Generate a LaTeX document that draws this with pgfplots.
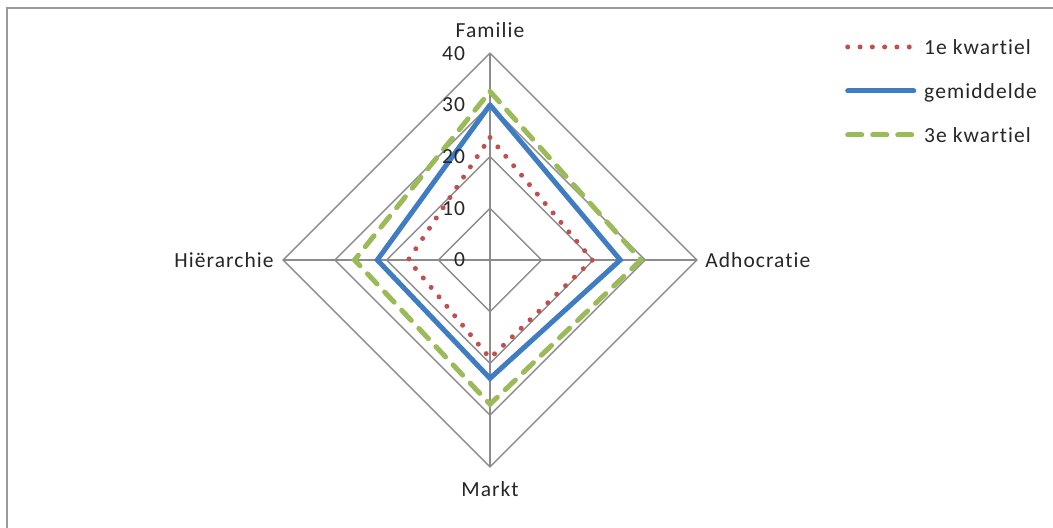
\documentclass[border=0pt]{standalone}
\usepackage{fontspec}
\setmainfont{Carlito}[LetterSpace=5, Ligatures={NoCommon}]
\usepackage{pgfplots}
\pgfplotsset{compat=1.18}
\usepgfplotslibrary{polar}
\definecolor{qred}{HTML}{C0504D}
\definecolor{qblue}{HTML}{3F7CC2}
\definecolor{qgreen}{HTML}{9BBB59}
\definecolor{gridgray}{HTML}{8C8C8C}
\definecolor{framegray}{HTML}{9A9A9A}
\definecolor{txt}{HTML}{262626}
\newcommand{\lf}{\fontsize{21.5bp}{25bp}\selectfont}
\begin{document}
\begin{tikzpicture}
\begin{axis}[
  scale only axis,
  width=1053bp, height=528bp,
  xmin=-94.78, xmax=108.90,
  ymin=-51.84, ymax=50.29,
  hide axis,
  clip=false,
  legend style={
    at={(rel axis cs:0.8025,0.9313)}, anchor=north west,
    draw=none, fill=none, inner sep=0pt, font=\lf, text=txt,
    row sep=23bp,
    nodes={anchor=west, text height=16bp, text depth=1bp, inner sep=2bp},
    /tikz/every odd column/.style={column sep=6bp},
  },
  legend cell align=left,
  legend image code/.code={\draw[#1] (0bp,0bp) -- (66bp,0bp);},
]
% frame
\draw[framegray, line width=2bp] (rel axis cs:1,0.98485) -- (rel axis cs:0.00665,0.98485) -- (rel axis cs:0.00665,0);
% grid diamonds
\addplot[forget plot, gridgray, line width=1.4bp, data cs=polar] coordinates {(90,10) (0,10) (270,10) (180,10) (90,10)};
\addplot[forget plot, gridgray, line width=1.4bp, data cs=polar] coordinates {(90,20) (0,20) (270,20) (180,20) (90,20)};
\addplot[forget plot, gridgray, line width=1.4bp, data cs=polar] coordinates {(90,30) (0,30) (270,30) (180,30) (90,30)};
\addplot[forget plot, gridgray, line width=1.4bp, data cs=polar] coordinates {(90,40) (0,40) (270,40) (180,40) (90,40)};
% spokes
\addplot[forget plot, gridgray, line width=1.4bp, data cs=polar] coordinates {(90,40) (270,40)};
\addplot[forget plot, gridgray, line width=1.4bp, data cs=polar] coordinates {(0,40) (180,40)};
% data: Familie (90), Adhocratie (0), Markt (270), Hierarchie (180)
\addplot[qred, line width=5bp, line cap=round, dash pattern=on 0bp off 12.3bp, data cs=polar]
  coordinates {(90,23.7) (0,19.8) (270,19.0) (180,15.8) (90,23.7)};
\addlegendentry{1e kwartiel}
\addplot[qblue, line width=5bp, line cap=round, line join=miter, data cs=polar]
  coordinates {(90,30.0) (0,25.2) (270,22.9) (180,21.8) (90,30.0)};
\addlegendentry{gemiddelde}
\addplot[qgreen, line width=5bp, line cap=round, dash pattern=on 14bp off 11bp, data cs=polar]
  coordinates {(90,32.6) (0,29.2) (270,27.9) (180,26.2) (90,32.6)};
\addlegendentry{3e kwartiel}
% category labels
\node[font=\lf, text=txt, inner sep=0pt] at (axis cs:0,44.5) {Familie};
\node[font=\lf, text=txt, inner sep=0pt] at (axis cs:0,-44.3) {Markt};
\node[font=\lf, text=txt, inner sep=0pt, anchor=west] at (axis cs:41.6,0) {Adhocratie};
\node[font=\lf, text=txt, inner sep=0pt, anchor=east] at (axis cs:-41.8,0) {Hiërarchie};
% radial tick labels
\node[font=\lf, text=txt, inner sep=0pt, anchor=east] at (axis cs:-4.8,0) {0};
\node[font=\lf, text=txt, inner sep=0pt, anchor=east] at (axis cs:-4.8,10) {10};
\node[font=\lf, text=txt, inner sep=0pt, anchor=east] at (axis cs:-4.8,20) {20};
\node[font=\lf, text=txt, inner sep=0pt, anchor=east] at (axis cs:-4.8,30) {30};
\node[font=\lf, text=txt, inner sep=0pt, anchor=east] at (axis cs:-4.8,40) {40};
\end{axis}
\pgfresetboundingbox
\useasboundingbox (current axis.south west) rectangle (current axis.north east);
\end{tikzpicture}
\end{document}
